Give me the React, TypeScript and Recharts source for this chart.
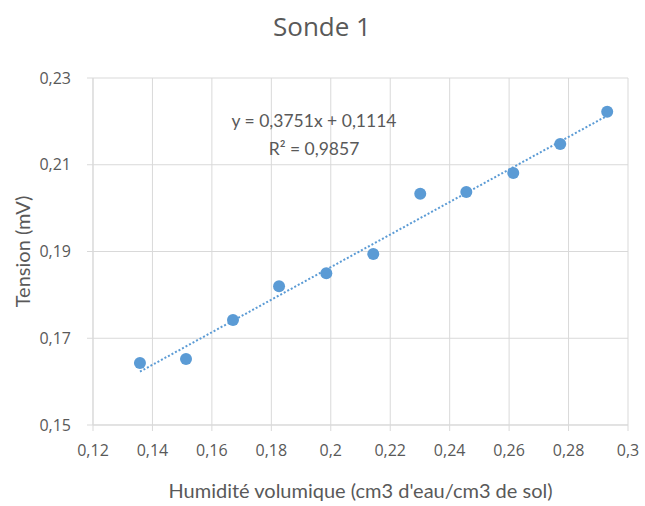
import React from 'react';
import { ScatterChart, Scatter, XAxis, YAxis, CartesianGrid } from 'recharts';

const humidity = [0.1358, 0.1513, 0.1671, 0.1826, 0.1985, 0.2143, 0.2301, 0.2456, 0.2614, 0.2772, 0.293];
const tension = [0.1643, 0.1652, 0.1742, 0.182, 0.185, 0.1894, 0.2033, 0.2037, 0.2081, 0.2148, 0.2222];

// trendline endpoints
const trendX = [0.1358, 0.293];
const trendY = [0.1623, 0.2213];

const xTicks = [0.12, 0.14, 0.16, 0.18, 0.2, 0.22, 0.24, 0.26, 0.28, 0.3];
const yTicks = [0.15, 0.17, 0.19, 0.21, 0.23];

const FONT = "'Open Sans', sans-serif";
const NARROW = "Lato, 'Open Sans', sans-serif";
const GREY = '#595959';
const BLUE = '#5b9bd5';

const points = humidity.map((x, i) => ({ x, y: tension[i] }));
const trend = trendX.map((x, i) => ({ x, y: trendY[i] }));

const fmt = (v: number) => String(v).replace('.', ',');

const Dot = (props: any) => <circle cx={props.cx} cy={props.cy} r={6} fill={BLUE} />;

const App: React.FC = () => {
    return (
        <div style={{ position: 'absolute', left: 0, top: 0, width: 645, height: 506, background: '#fff', fontFamily: FONT }}>
            <ScatterChart width={645} height={506} margin={{ top: 78, right: 17, bottom: 0, left: 0 }}>
                <CartesianGrid stroke="#d9d9d9" strokeWidth={1} />
                <XAxis
                    type="number"
                    dataKey="x"
                    domain={[0.12, 0.3]}
                    ticks={xTicks}
                    tickFormatter={fmt}
                    height={81}
                    stroke="#d9d9d9"
                    tickSize={6}
                    tickMargin={14}
                    tick={{ fill: GREY, fontSize: 16, fontFamily: FONT }}
                    label={{ value: "Humidité volumique (cm3 d'eau/cm3 de sol)", position: 'insideBottom', offset: 8, fill: GREY, fontSize: 20, fontFamily: NARROW }}
                />
                <YAxis
                    type="number"
                    dataKey="y"
                    domain={[0.15, 0.23]}
                    ticks={yTicks}
                    tickFormatter={fmt}
                    width={93}
                    stroke="#d9d9d9"
                    tickSize={6}
                    tickMargin={16}
                    tick={{ fill: GREY, fontSize: 16, fontFamily: FONT }}
                    label={{ value: 'Tension (mV)', angle: -90, position: 'insideLeft', offset: 23, style: { textAnchor: 'middle' }, fill: GREY, fontSize: 20, fontFamily: NARROW }}
                />
                <Scatter
                    data={trend}
                    line={{ stroke: BLUE, strokeWidth: 2, strokeDasharray: '2 2' }}
                    shape={() => <g />}
                    isAnimationActive={false}
                />
                <Scatter data={points} fill={BLUE} shape={Dot} isAnimationActive={false} />
                <text x={322} y={36} textAnchor="middle" fill={GREY} fontSize={26} fontFamily={FONT}>Sonde 1</text>
                <text x={314} y={127} textAnchor="middle" fill={GREY} fontSize={17.5} fontFamily={NARROW}>y = 0,3751x + 0,1114</text>
                <text x={314} y={155} textAnchor="middle" fill={GREY} fontSize={17.5} fontFamily={NARROW}>R² = 0,9857</text>
            </ScatterChart>
        </div>
    );
};

export default App;
